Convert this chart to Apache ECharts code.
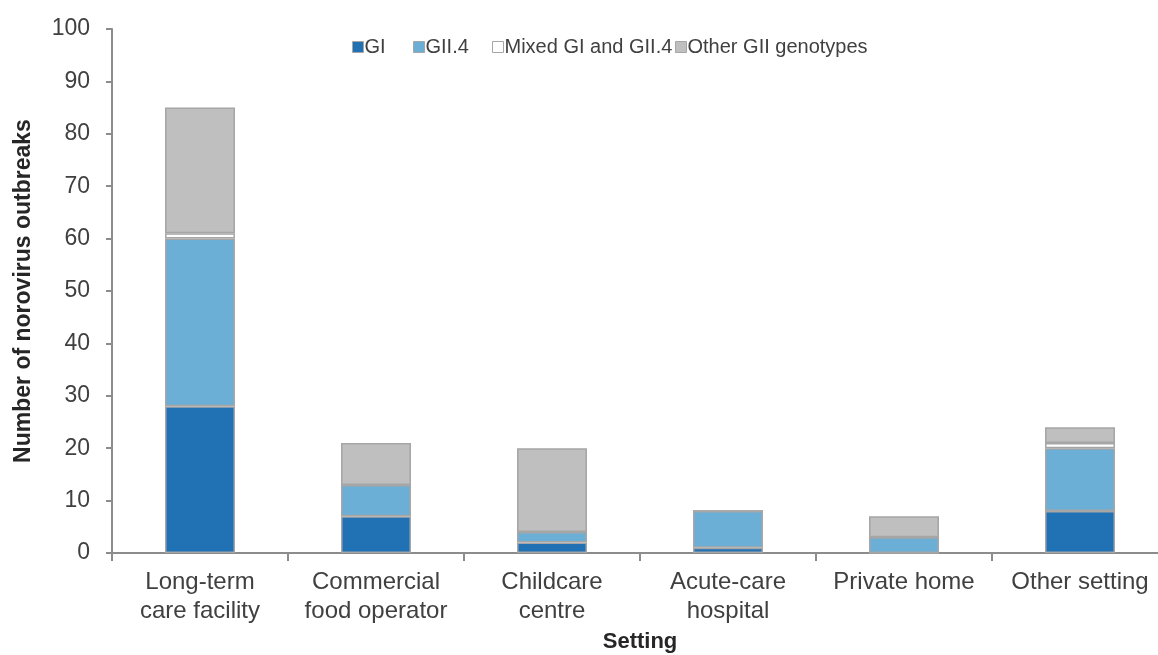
<!DOCTYPE html>
<html><head><meta charset="utf-8">
<script src="https://cdn.jsdelivr.net/npm/echarts@6/dist/echarts.min.js"></script>
<style>html,body{margin:0;padding:0;background:#fff}#c{width:1158px;height:655px}</style>
</head><body><div id="c"></div>
<script>
const categories = ["Long-term\ncare facility","Commercial\nfood operator","Childcare\ncentre","Acute-care\nhospital","Private home","Other setting"];
const gi = [28,7,2,1,0,8];
const gii4 = [32,6,2,7,3,12];
const mixed = [1,0,0,0,0,1];
const otherGII = [24,8,16,0,4,3];
const seriesNames = ["GI","GII.4","Mixed GI and GII.4","Other GII genotypes"];
const colors = ["#2171B5","#6BAED6","#FFFFFF","#BFBFBF"];
const yTicks = [0,10,20,30,40,50,60,70,80,90,100];

const font = "Liberation Sans, Arial, sans-serif";
const chart = echarts.init(document.getElementById('c'));
const data = [gi,gii4,mixed,otherGII];
const legendLefts = [352,413,492,675];
chart.setOption({
  animation:false,
  textStyle:{fontFamily:font},
  legend:seriesNames.map((n,i)=>({
    top:37, left:legendLefts[i], padding:0, itemWidth:11, itemHeight:11,
    icon:'rect',
    textStyle:{fontSize:20,color:'#404040',fontFamily:font,padding:[0,0,0,-4]},
    data:[{name:n,itemStyle:{borderColor:'#A6A6A6',borderWidth:1}}]
  })),
  grid:{left:112,width:1056,top:29,bottom:102,containLabel:false,outerBoundsMode:'none'},
  xAxis:{
    type:'category', data:categories,
    name:'Setting', nameLocation:'middle', nameGap:75,
    nameTextStyle:{fontSize:22,fontWeight:'bold',color:'#262626',fontFamily:font},
    axisLine:{lineStyle:{color:'#8C8C8C',width:2}},
    axisTick:{show:true,length:8,lineStyle:{color:'#8C8C8C',width:2}},
    axisLabel:{fontSize:24,color:'#404040',lineHeight:29,margin:15,fontFamily:font,interval:0}
  },
  yAxis:{
    type:'value', min:0, max:100, interval:10,
    name:'Number of norovirus outbreaks', nameLocation:'middle', nameGap:77,
    nameTextStyle:{fontSize:23,fontWeight:'bold',color:'#262626',fontFamily:font},
    splitLine:{show:false},
    axisLine:{show:true,lineStyle:{color:'#8C8C8C',width:2}},
    axisTick:{show:true,length:6,lineStyle:{color:'#8C8C8C',width:2}},
    axisLabel:{fontSize:23,color:'#404040',margin:22,fontFamily:font,
      formatter:v=>yTicks.includes(v)?String(v):''}
  },
  series:seriesNames.map((n,i)=>({
    name:n, type:'bar', stack:'s', barWidth:70,
    itemStyle:{color:colors[i],borderColor:'#A6A6A6',borderWidth:1.5},
    data:data[i]
  }))
});
</script></body></html>
